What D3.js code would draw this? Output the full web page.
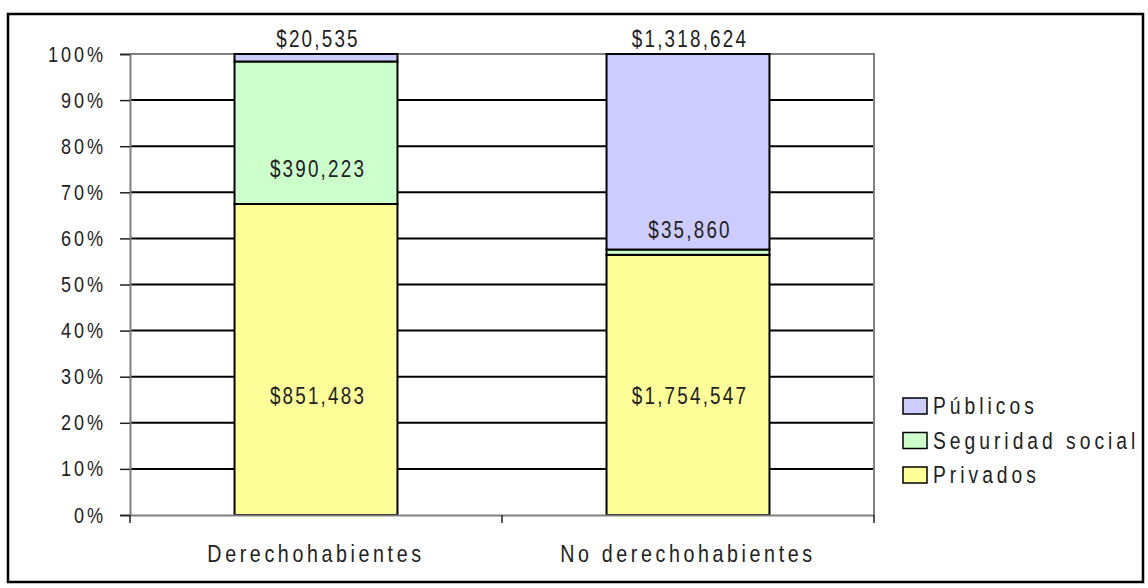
<!DOCTYPE html>
<html>
<head>
<meta charset="utf-8" />
<title>Gasto por tipo de servicio</title>
<style>
  body { margin: 0; background: #fff; }
  #chart text { font-family: "Liberation Sans", Arial, sans-serif; fill: #222; }
</style>
</head>
<body>
<svg id="chart" width="1148" height="588"></svg>
<script src="https://d3js.org/d3.v7.min.js"></script>
<script>
  // data
  const categories = ["Derechohabientes", "No derechohabientes"];
  const seriesNames = ["Privados", "Seguridad social", "Públicos"];
  const privados = [851483, 1754547];
  const seguridadSocial = [390223, 35860];
  const publicos = [20535, 1318624];
  const tickLabels = [0, 0.1, 0.2, 0.3, 0.4, 0.5, 0.6, 0.7, 0.8, 0.9, 1];

  const colors = { "Privados": "#ffff99", "Seguridad social": "#ccffcc", "Públicos": "#ccccff" };
  // where each value label sits (share of the axis), per category
  const labelAt = {
    "Privados": [0.241, 0.241],
    "Seguridad social": [0.733, 0.601],
    "Públicos": [1.015, 1.015]
  };

  const rows = categories.map((c, i) => ({
    cat: c,
    "Privados": privados[i],
    "Seguridad social": seguridadSocial[i],
    "Públicos": publicos[i]
  }));

  // the original uses a narrow face; squeeze Liberation Sans to match
  const SX = 0.82;
  function narrow(sel, size, spacing) {
    sel.each(function () {
      const t = d3.select(this);
      const x0 = +t.attr("x") || 0;
      t.attr("x", x0 / SX)
        .attr("transform", `scale(${SX},1)`)
        .style("font-size", size + "px")
        .style("letter-spacing", (spacing / SX) + "px");
    });
  }

  const svg = d3.select("#chart");
  const plotL = 130, plotR = 874, plotT = 54, plotB = 515;

  // outer frame
  svg.append("rect")
    .attr("x", 8).attr("y", 14)
    .attr("width", 1135).attr("height", 568)
    .attr("fill", "none").attr("stroke", "#000").attr("stroke-width", 2.5);

  const x = d3.scaleBand().domain(categories).range([plotL, plotR]);
  const y = d3.scaleLinear().domain([0, 1]).range([plotB, plotT]);
  const barW = x.bandwidth() * 0.438;

  // gridlines
  svg.append("g").selectAll("line")
    .data(tickLabels.filter(t => t > 0 && t < 1))
    .enter().append("line")
    .attr("x1", plotL).attr("x2", plotR)
    .attr("y1", d => y(d)).attr("y2", d => y(d))
    .attr("stroke", "#000").attr("stroke-width", 2);

  // plot border (top and right)
  svg.append("path")
    .attr("d", `M${plotL},${plotT}H${plotR}V${plotB}`)
    .attr("fill", "none").attr("stroke", "#808080").attr("stroke-width", 2);

  const stack = d3.stack().keys(seriesNames).offset(d3.stackOffsetExpand);
  const layers = stack(rows);

  const g = svg.append("g");
  layers.forEach(layer => {
    g.selectAll(null)
      .data(layer)
      .enter().append("rect")
      .attr("x", d => x(d.data.cat) + (x.bandwidth() - barW) / 2)
      .attr("y", d => y(d[1]))
      .attr("width", barW)
      .attr("height", d => y(d[0]) - y(d[1]))
      .attr("fill", colors[layer.key])
      .attr("stroke", "#000")
      .attr("stroke-width", 2);
  });

  // value labels
  const fmt = d3.format("$,");
  layers.forEach(layer => {
    g.selectAll(null)
      .data(layer)
      .enter().append("text")
      .attr("x", d => x(d.data.cat) + x.bandwidth() / 2 + 2)
      .attr("y", (d, i) => y(labelAt[layer.key][i]))
      .attr("text-anchor", "middle")
      .text(d => fmt(d.data[layer.key]))
      .call(narrow, 23, 2.2);
  });

  // y axis
  const yAxis = d3.axisLeft(y)
    .tickValues(tickLabels)
    .tickFormat(d3.format(".0%"))
    .tickSize(10)
    .tickPadding(14);
  const ya = svg.append("g")
    .attr("transform", `translate(${plotL},0)`)
    .call(yAxis);
  ya.select(".domain").attr("stroke", "#808080").attr("stroke-width", 2);
  ya.selectAll(".tick line").attr("stroke", "#222").attr("stroke-width", 1.5);
  ya.selectAll(".tick text").call(narrow, 22, 3);

  // x axis
  const xAxis = d3.axisBottom(x).tickSize(0).tickPadding(30);
  const xa = svg.append("g")
    .attr("transform", `translate(0,${plotB})`)
    .call(xAxis);
  xa.select(".domain").attr("stroke", "#808080").attr("stroke-width", 2);
  xa.selectAll(".tick text")
    .attr("dy", "0.72em")
    .call(narrow, 24, 3.6);
  // category separators
  xa.selectAll(".sep")
    .data([plotL, plotR].concat(categories.slice(1).map(c => x(c))))
    .enter().append("line")
    .attr("x1", d => d).attr("x2", d => d)
    .attr("y1", 0).attr("y2", 8)
    .attr("stroke", "#222").attr("stroke-width", 1.5);

  // legend
  const legend = svg.append("g").attr("transform", "translate(903,398)");
  const legendOrder = seriesNames.slice().reverse();
  legendOrder.forEach((name, i) => {
    const row = legend.append("g").attr("transform", `translate(0,${i * 34.5})`);
    row.append("rect")
      .attr("width", 24).attr("height", 16)
      .attr("fill", colors[name]).attr("stroke", "#000").attr("stroke-width", 1.5);
    row.append("text")
      .attr("x", 30).attr("y", 16)
      .text(name)
      .call(narrow, 23.5, 4);
  });
</script>
</body>
</html>
